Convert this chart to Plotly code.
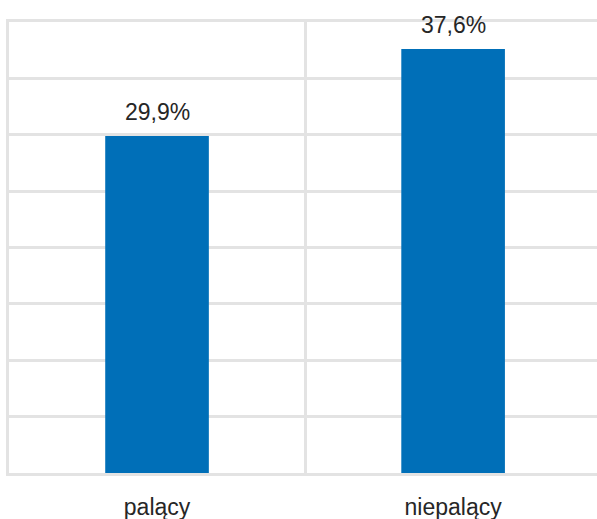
import plotly.graph_objects as go

categories = ["palący", "niepalący"]
values = [29.9, 37.6]
labels = ["29,9%", "37,6%"]

GRID = "#e3e3e3"
FONT = "Liberation Sans, Arial, sans-serif"
TXT = "#262626"

fig = go.Figure(go.Bar(
    x=categories, y=values,
    marker=dict(color="#006fb8", line=dict(width=0)),
    width=0.35,
))

for c, v, t in zip(categories, values, labels):
    fig.add_annotation(x=c, y=v, text=t, showarrow=False, yanchor="middle",
                       yshift=24, font=dict(family=FONT, size=23, color=TXT))

fig.update_layout(
    width=597, height=519,
    margin=dict(l=9, r=0, t=22, b=46),
    paper_bgcolor="white", plot_bgcolor="white",
    showlegend=False,
    font=dict(family=FONT, size=23, color=TXT),
    xaxis=dict(
        type="category", range=[-0.5, 1.486], tickson="boundaries",
        showgrid=True, gridcolor=GRID, gridwidth=2.5,
        ticks="", showline=True, mirror=True, linecolor=GRID, linewidth=2.5,
        zeroline=False, ticklabelstandoff=12, automargin=False,
        tickfont=dict(size=23, color=TXT),
    ),
    yaxis=dict(
        range=[0, 40], dtick=5, showticklabels=False,
        showgrid=True, gridcolor=GRID, gridwidth=2.5,
        zeroline=False, automargin=False,
        ticks="", showline=True, linecolor=GRID, linewidth=2.5,
    ),
)

fig.write_html("out.html")
